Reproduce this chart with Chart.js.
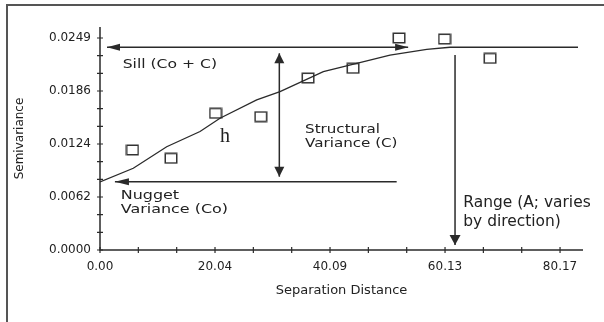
<!DOCTYPE html>
<html><head><meta charset="utf-8">
<script src="https://cdn.jsdelivr.net/npm/chart.js@4.4.0/dist/chart.umd.min.js"></script>
<style>html,body{margin:0;padding:0;background:#fff;overflow:hidden}canvas{display:block}</style>
</head><body>
<canvas id="c" width="604" height="322"></canvas>
<script>
// ---- data ----
const lagDistance = [5.66, 12.37, 20.13, 28.02, 36.25, 44.09, 52.11, 60.04, 67.97];
const semivariance = [0.01175, 0.01077, 0.01606, 0.01566, 0.02020, 0.02134, 0.02490, 0.02478, 0.02251];
const modelDistance = [0, 5.80, 11.62, 17.43, 20.91, 27.31, 31.37, 38.92, 44.74, 50.54, 56.94, 61.0, 83.3];
const modelSemivariance = [0.00800, 0.00960, 0.01213, 0.01392, 0.01547, 0.01762, 0.01859, 0.02094, 0.02193, 0.02290, 0.02357, 0.02381, 0.02381];
const xTickLabels = ['0.00', '20.04', '40.09', '60.13', '80.17'];
const yTickLabels = ['0.0000', '0.0062', '0.0124', '0.0186', '0.0249'];
const xLabelStep = 20.0425;
const yLabelStep = 0.006225;
const minorPerLabel = 3;
const xAxisMax = 84.17;
const yAxisMax = 0.02619;
const sillValue = 0.02381;
const nuggetValue = 0.00802;
const rangeValue = 61.87;

// ---- annotations (data coordinates) ----
const arrows = [
  {x1: 53.7, y1: sillValue, x2: 1.22, y2: sillValue, headStart: true, headEnd: true, len: 13, half: 3.5},
  {x1: 31.25, y1: 0.00861, x2: 31.25, y2: 0.02310, headStart: true, headEnd: true, len: 10, half: 5},
  {x1: 51.7, y1: nuggetValue, x2: 2.6, y2: nuggetValue, headStart: false, headEnd: true, len: 14, half: 3.5},
  {x1: rangeValue, y1: 0.02290, x2: rangeValue, y2: 0.00059, headStart: false, headEnd: true, len: 10, half: 5.5}
];
const texts = [
  {t: 'Sill (Co + C)', x: 3.95, y: 0.02134, font: '12px "DejaVu Sans"', sx: 1.3, align: 'left'},
  {t: 'Structural', x: 35.73, y: 0.01378, font: '12px "DejaVu Sans"', sx: 1.26, align: 'left'},
  {t: 'Variance (C)', x: 35.73, y: 0.01213, font: '12px "DejaVu Sans"', sx: 1.26, align: 'left'},
  {t: 'h', x: 21.78, y: 0.01272, font: '20px "Liberation Serif"', sx: 1, align: 'center'},
  {t: 'Nugget', x: 3.61, y: 0.00599, font: '12px "DejaVu Sans"', sx: 1.33, align: 'left'},
  {t: 'Variance (Co)', x: 3.61, y: 0.00431, font: '12px "DejaVu Sans"', sx: 1.33, align: 'left'},
  {t: 'Range (A; varies', x: 63.31, y: 0.00509, font: '15px "DejaVu Sans"', sx: 1.03, align: 'left'},
  {t: 'by direction)', x: 63.31, y: 0.00282, font: '15px "DejaVu Sans"', sx: 1.03, align: 'left'}
];

const ink = '#2a2a2a';

// square marker
const sq = document.createElement('canvas');
sq.width = 14; sq.height = 12;
(function(){ const g = sq.getContext('2d'); g.strokeStyle = '#333'; g.lineWidth = 1.5; g.strokeRect(1.25, 1.25, 11.5, 9.5); })();

function minorTicks(step, count) {
  const out = [];
  for (let i = 0; i <= count; i++) out.push({value: i * step / minorPerLabel});
  return out;
}

function head(ctx, tx, ty, fx, fy, len, half) {
  const a = Math.atan2(ty - fy, tx - fx);
  ctx.save();
  ctx.translate(tx, ty); ctx.rotate(a);
  ctx.beginPath(); ctx.moveTo(0, 0); ctx.lineTo(-len, -half); ctx.lineTo(-len, half); ctx.closePath();
  ctx.fill(); ctx.restore();
}

const decor = {
  id: 'decor',
  beforeDraw(chart) {
    const ctx = chart.ctx;
    ctx.save();
    ctx.fillStyle = '#fff'; ctx.fillRect(0, 0, chart.width, chart.height);
    ctx.strokeStyle = '#555'; ctx.lineWidth = 2;
    ctx.beginPath(); ctx.moveTo(7, 322); ctx.lineTo(7, 5); ctx.lineTo(604, 5); ctx.stroke();
    ctx.restore();
  },
  afterDraw(chart) {
    const ctx = chart.ctx, xs = chart.scales.x, ys = chart.scales.y;
    const a = chart.chartArea;
    ctx.save();
    ctx.strokeStyle = ink; ctx.fillStyle = ink; ctx.lineWidth = 1.5;
    // axes
    ctx.beginPath();
    ctx.moveTo(a.left, a.top); ctx.lineTo(a.left, a.bottom); ctx.lineTo(a.right, a.bottom);
    ctx.stroke();
    ctx.lineWidth = 1.2;
    ctx.beginPath();
    xs.ticks.forEach(t => { const p = xs.getPixelForValue(t.value); ctx.moveTo(p, a.bottom - 3); ctx.lineTo(p, a.bottom + 3); });
    ys.ticks.forEach(t => { const p = ys.getPixelForValue(t.value); ctx.moveTo(a.left - 3, p); ctx.lineTo(a.left + 3, p); });
    ctx.stroke();
    // arrows
    ctx.lineWidth = 1.5;
    arrows.forEach(ar => {
      const x1 = xs.getPixelForValue(ar.x1), y1 = ys.getPixelForValue(ar.y1);
      const x2 = xs.getPixelForValue(ar.x2), y2 = ys.getPixelForValue(ar.y2);
      ctx.beginPath(); ctx.moveTo(x1, y1); ctx.lineTo(x2, y2); ctx.stroke();
      if (ar.headEnd) head(ctx, x2, y2, x1, y1, ar.len, ar.half);
      if (ar.headStart) head(ctx, x1, y1, x2, y2, ar.len, ar.half);
    });
    // texts
    ctx.fillStyle = '#222';
    texts.forEach(tx => {
      ctx.save();
      ctx.translate(xs.getPixelForValue(tx.x), ys.getPixelForValue(tx.y));
      ctx.scale(tx.sx, 1);
      ctx.font = tx.font; ctx.textAlign = tx.align; ctx.textBaseline = 'alphabetic';
      ctx.fillText(tx.t, 0, 0);
      ctx.restore();
    });
    ctx.restore();
  }
};

new Chart(document.getElementById('c'), {
  type: 'scatter',
  data: {
    datasets: [
      {
        label: 'Model',
        data: modelDistance.map((d, i) => ({x: d, y: modelSemivariance[i]})),
        showLine: true, borderColor: ink, borderWidth: 1.3, pointRadius: 0, tension: 0, fill: false
      },
      {
        label: 'Semivariance',
        data: lagDistance.map((d, i) => ({x: d, y: semivariance[i]})),
        pointStyle: sq, pointRadius: 6, showLine: false
      }
    ]
  },
  options: {
    responsive: false, animation: false, devicePixelRatio: 1,
    layout: {padding: {top: 27, right: 21, left: 0, bottom: 0}},
    plugins: {legend: {display: false}, tooltip: {enabled: false}},
    scales: {
      x: {
        type: 'linear', min: 0, max: xAxisMax,
        grid: {display: false, drawTicks: false}, border: {display: false},
        afterBuildTicks: s => { s.ticks = minorTicks(xLabelStep, xTickLabels.length * minorPerLabel - minorPerLabel); },
        afterFit: s => { s.height = 72; },
        ticks: {
          autoSkip: false, maxRotation: 0, padding: 10, color: '#222',
          font: {family: 'DejaVu Sans', size: 12},
          callback: (v, i) => (i % minorPerLabel === 0 ? xTickLabels[i / minorPerLabel] : '')
        },
        title: {display: true, text: 'Separation Distance', color: '#222', font: {family: 'DejaVu Sans', size: 13}, padding: {top: 0, bottom: 23.5}}
      },
      y: {
        type: 'linear', min: 0, max: yAxisMax,
        grid: {display: false, drawTicks: false}, border: {display: false},
        afterBuildTicks: s => { s.ticks = minorTicks(yLabelStep, yTickLabels.length * minorPerLabel - minorPerLabel); },
        afterFit: s => { s.width = 100; },
        ticks: {
          autoSkip: false, padding: 9, color: '#222',
          font: {family: 'DejaVu Sans', size: 12},
          callback: (v, i) => (i % minorPerLabel === 0 ? yTickLabels[i / minorPerLabel] : '')
        },
        title: {display: true, text: 'Semivariance', color: '#222', font: {family: 'DejaVu Sans', size: 12}, padding: {top: 12.8, bottom: 0}}
      }
    }
  },
  plugins: [decor]
});
</script>
</body></html>
